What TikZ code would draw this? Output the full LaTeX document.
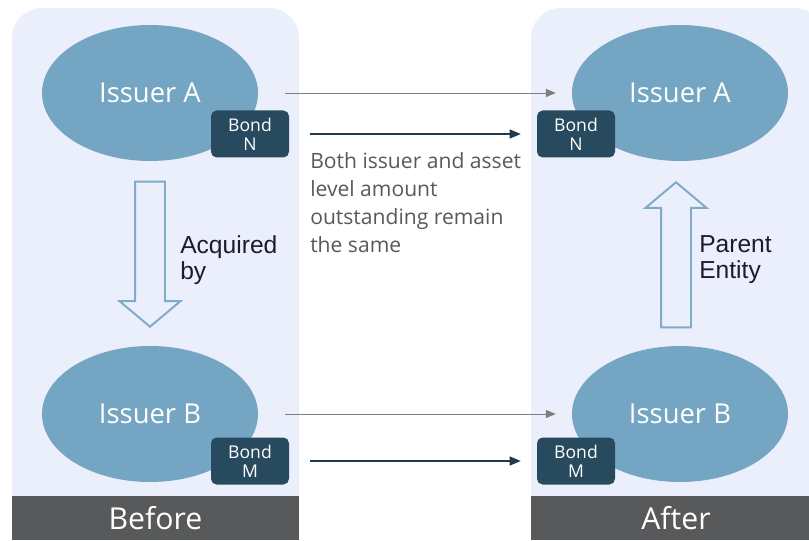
\documentclass[tikz,border=0pt]{standalone}
\usepackage{fontspec}
\setmainfont{Open Sans}
\newfontfamily\labelfont{Liberation Sans}
\usetikzlibrary{shapes,arrows}

\definecolor{panelbg}{HTML}{EBEEFB}
\definecolor{issuerfill}{HTML}{74A6C3}
\definecolor{bondfill}{HTML}{284A5E}
\definecolor{barfill}{HTML}{58595B}
\definecolor{thinarrow}{HTML}{7F7F7F}
\definecolor{darkarrow}{HTML}{1F3A4C}
\definecolor{blockline}{HTML}{7EACC8}
\definecolor{notetext}{HTML}{595959}
\definecolor{labeltext}{HTML}{1B1B2F}

\tikzset{
  issuer/.style={ellipse, fill=issuerfill, minimum width=5.4cm, minimum height=3.4cm,
    text=white, font=\fontsize{19.5}{22}\selectfont},
  bond/.style={rectangle, rounded corners=4pt, fill=bondfill, minimum width=1.95cm,
    minimum height=1.175cm, text=white, align=center, inner sep=0pt,
    font=\fontsize{12.5}{13.5}\selectfont},
  bar/.style={rectangle, fill=barfill, minimum width=7.25cm, minimum height=1.1cm,
    text=white, inner sep=0pt, font=\fontsize{21.5}{24}\selectfont},
  blockarrow/.style={single arrow, draw=blockline, line width=1.4pt, inner xsep=0pt,
    inner ysep=0.35cm, minimum height=3.625cm, single arrow head extend=0.3875cm,
    single arrow tip angle=100},
  thin link/.style={draw=thinarrow, line width=0.6pt, -triangle 45},
  dark link/.style={draw=darkarrow, line width=0.8pt, -triangle 45}
}

\begin{document}
\begin{tikzpicture}
  \clip (0,0) rectangle (20.225,13.5);
  % panels
  \fill[panelbg] (0.3,0) [rounded corners=0.75cm] -- (0.3,13.3) -- (7.475,13.3) [sharp corners] -- (7.475,0) -- cycle;
  \fill[panelbg] (13.275,0) [rounded corners=0.75cm] -- (13.275,13.3) -- (20.6,13.3) [sharp corners] -- (20.6,0) -- cycle;
  \node[bar, minimum width=7.175cm] (before) at (3.8875,0.55) {Before};
  \node[bar] (after) at (16.9,0.55) {After};

  % before
  \node[issuer] (issAbefore) at (3.75,11.175) {Issuer A};
  \node[bond] (bondNbefore) at (6.25,10.15) {Bond\\N};
  \node[issuer] (issBbefore) at (3.75,3.15) {Issuer B};
  \node[bond] (bondMbefore) at (6.25,1.975) {Bond\\M};

  % after
  \node[issuer] (issAafter) at (17.0,11.175) {Issuer A};
  \node[bond] (bondNafter) at (14.4,10.15) {Bond\\N};
  \node[issuer] (issBafter) at (17.0,3.15) {Issuer B};
  \node[bond] (bondMafter) at (14.4,1.975) {Bond\\M};

  \draw[thin link, shorten <=0.675cm, shorten >=0.4cm] (issAbefore) -- (issAafter);
  \draw[dark link, shorten <=0.525cm, shorten >=0.4cm] (bondNbefore) -- (bondNafter);
  \draw[thin link, shorten <=0.675cm, shorten >=0.4cm] (issBbefore) -- (issBafter);
  \draw[dark link, shorten <=0.525cm, shorten >=0.4cm] (bondMbefore) -- (bondMafter);

  \node[anchor=north west, inner sep=0pt, align=left, text=notetext,
    font=\fontsize{15}{19.9}\selectfont] (note) at (7.75,9.7)
    {Both issuer and asset\\level amount\\outstanding remain\\the same};

  % block arrows
  \node[blockarrow, rotate=-90, anchor=tip] (acquired) at (3.75,5.3) {};
  \node[anchor=west, inner sep=0pt, align=left, text=labeltext,
    font=\labelfont\fontsize{17.5}{18.5}\selectfont] (acqlabel) at (4.5,7.0) {Acquired\\by};
  \node[blockarrow, rotate=90, anchor=tip] (parent) at (16.9,8.975) {};
  \node[anchor=west, inner sep=0pt, align=left, text=labeltext,
    font=\labelfont\fontsize{17.5}{18.5}\selectfont] (parlabel) at (17.475,7.0) {Parent\\Entity};
\end{tikzpicture}
\end{document}
